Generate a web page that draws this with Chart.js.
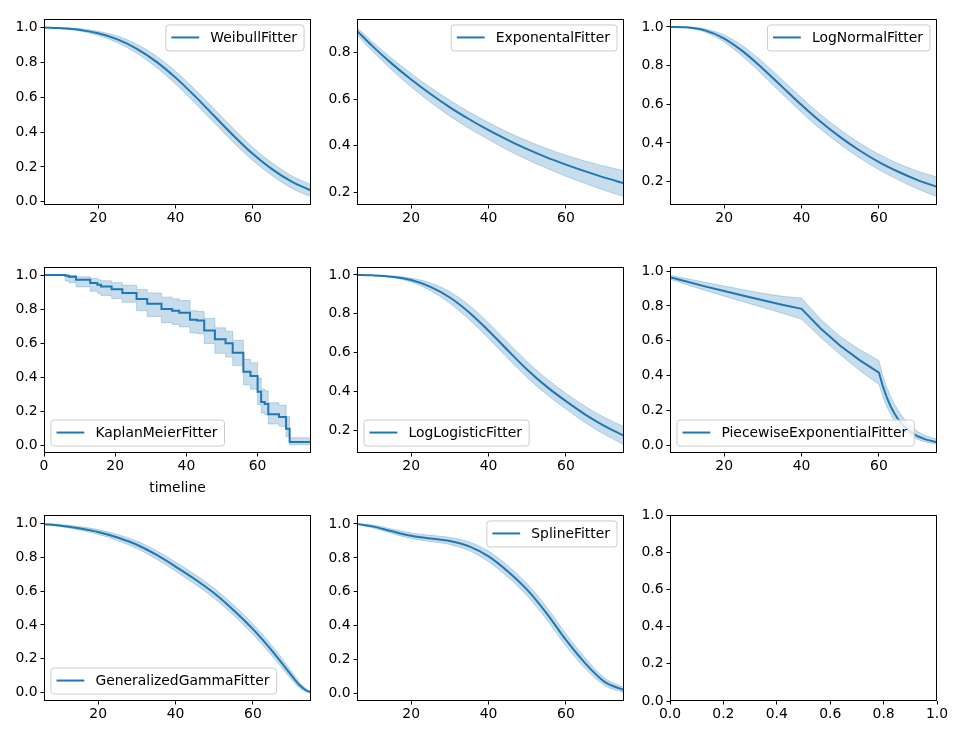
<!DOCTYPE html>
<html>
<head>
<meta charset="utf-8">
<script src="https://cdn.jsdelivr.net/npm/chart.js@4.4.0/dist/chart.umd.min.js"></script>
<style>
  html, body { margin: 0; padding: 0; background: #fff; }
  #fig { position: relative; width: 960px; height: 740px; overflow: hidden; }
  #fig canvas { position: absolute; }
</style>
</head>
<body>
<div id="fig"></div>
<script>
// timeline shared by the smooth parametric fitters
const tGrid = [6, 10, 15, 20, 25, 30, 35, 40, 45, 50, 55, 60, 65, 70, 75];

const weibullS  = [0.999, 0.996, 0.987, 0.966, 0.931, 0.877, 0.804, 0.712, 0.606, 0.492, 0.379, 0.274, 0.186, 0.116, 0.065];
const weibullHi = [1.000, 0.999, 0.994, 0.978, 0.950, 0.903, 0.836, 0.749, 0.645, 0.532, 0.419, 0.312, 0.222, 0.150, 0.100];
const weibullLo = [0.998, 0.993, 0.980, 0.954, 0.912, 0.851, 0.772, 0.675, 0.567, 0.452, 0.339, 0.236, 0.150, 0.078, 0.029];

const expS  = [0.892, 0.827, 0.752, 0.684, 0.622, 0.565, 0.514, 0.467, 0.425, 0.386, 0.351, 0.320, 0.291, 0.264, 0.240];
const expHi = [0.907, 0.846, 0.775, 0.710, 0.650, 0.595, 0.545, 0.500, 0.458, 0.422, 0.389, 0.360, 0.335, 0.313, 0.294];
const expLo = [0.876, 0.805, 0.725, 0.652, 0.587, 0.527, 0.474, 0.427, 0.381, 0.341, 0.304, 0.270, 0.239, 0.209, 0.183];

const lognormS  = [1.000, 0.998, 0.982, 0.940, 0.871, 0.784, 0.690, 0.596, 0.508, 0.430, 0.361, 0.301, 0.251, 0.208, 0.173];
const lognormHi = [1.000, 1.000, 0.990, 0.958, 0.899, 0.818, 0.727, 0.634, 0.546, 0.468, 0.400, 0.341, 0.293, 0.254, 0.224];
const lognormLo = [1.000, 0.996, 0.974, 0.922, 0.843, 0.750, 0.653, 0.558, 0.470, 0.392, 0.322, 0.261, 0.209, 0.162, 0.122];

const kmT  = [0, 6, 7, 9, 13, 15, 16, 19, 22, 26, 29, 33, 36, 38, 41, 43, 45, 48, 51, 53, 56, 58, 60, 61, 62, 63, 66, 68, 69, 75];
const kmS  = [1.0, 0.995, 0.990, 0.972, 0.953, 0.943, 0.933, 0.917, 0.894, 0.859, 0.831, 0.800, 0.790, 0.778, 0.737, 0.733, 0.674, 0.623, 0.599, 0.544, 0.432, 0.407, 0.314, 0.255, 0.242, 0.183, 0.167, 0.098, 0.020, 0.0];
const kmHi = [1.0, 0.999, 0.998, 0.990, 0.980, 0.972, 0.966, 0.955, 0.940, 0.915, 0.895, 0.870, 0.860, 0.850, 0.790, 0.786, 0.745, 0.690, 0.670, 0.617, 0.505, 0.485, 0.395, 0.330, 0.320, 0.250, 0.235, 0.170, 0.045, 0.045];
const kmLo = [1.0, 0.965, 0.955, 0.930, 0.905, 0.893, 0.880, 0.862, 0.840, 0.790, 0.757, 0.720, 0.710, 0.695, 0.660, 0.655, 0.598, 0.540, 0.518, 0.468, 0.355, 0.330, 0.240, 0.190, 0.178, 0.125, 0.112, 0.050, 0.004, 0.0];

const loglogS  = [1.000, 0.998, 0.991, 0.974, 0.939, 0.884, 0.807, 0.713, 0.611, 0.512, 0.425, 0.350, 0.281, 0.222, 0.172];
const loglogHi = [1.000, 0.999, 0.995, 0.984, 0.959, 0.914, 0.844, 0.753, 0.652, 0.553, 0.466, 0.391, 0.323, 0.266, 0.219];
const loglogLo = [1.000, 0.997, 0.987, 0.964, 0.919, 0.854, 0.770, 0.673, 0.570, 0.471, 0.384, 0.309, 0.239, 0.178, 0.125];

const pweT  = [6, 10, 15, 20, 25, 30, 35, 40, 45, 50, 55, 60, 61, 62, 63, 64, 65, 66, 67, 68, 70, 72, 75];
const pweS  = [0.964, 0.941, 0.912, 0.885, 0.858, 0.832, 0.807, 0.783, 0.669, 0.572, 0.489, 0.418, 0.340, 0.277, 0.225, 0.183, 0.149, 0.121, 0.099, 0.080, 0.053, 0.035, 0.019];
const pweHi = [0.976, 0.958, 0.936, 0.914, 0.893, 0.872, 0.855, 0.845, 0.722, 0.625, 0.550, 0.487, 0.400, 0.335, 0.282, 0.238, 0.200, 0.168, 0.140, 0.116, 0.080, 0.056, 0.036];
const pweLo = [0.953, 0.924, 0.889, 0.856, 0.823, 0.791, 0.758, 0.724, 0.617, 0.520, 0.430, 0.349, 0.282, 0.224, 0.178, 0.142, 0.112, 0.089, 0.071, 0.056, 0.034, 0.020, 0.007];

const ggT  = [6, 10, 15, 20, 25, 30, 35, 40, 45, 50, 55, 60, 65, 70, 72, 74, 75];
const ggS  = [0.996, 0.988, 0.972, 0.950, 0.917, 0.874, 0.815, 0.745, 0.670, 0.587, 0.487, 0.375, 0.245, 0.100, 0.045, 0.010, 0.003];
const ggHi = [0.999, 0.994, 0.982, 0.964, 0.935, 0.896, 0.840, 0.772, 0.699, 0.617, 0.518, 0.406, 0.275, 0.124, 0.062, 0.017, 0.006];
const ggLo = [0.993, 0.982, 0.962, 0.936, 0.899, 0.852, 0.790, 0.718, 0.641, 0.557, 0.456, 0.344, 0.215, 0.076, 0.028, 0.003, 0.000];

const splineS  = [1.000, 0.986, 0.957, 0.931, 0.915, 0.900, 0.868, 0.809, 0.720, 0.611, 0.473, 0.316, 0.178, 0.069, 0.020];
const splineHi = [1.000, 0.994, 0.970, 0.947, 0.933, 0.921, 0.894, 0.840, 0.754, 0.647, 0.510, 0.352, 0.209, 0.091, 0.035];
const splineLo = [0.998, 0.978, 0.944, 0.915, 0.897, 0.879, 0.842, 0.778, 0.686, 0.575, 0.436, 0.280, 0.147, 0.047, 0.005];

// tick labels
const fitTicksX = [20, 40, 60];
const kmTicksX = [0, 20, 40, 60];
const unitTicks = [0, 0.2, 0.4, 0.6, 0.8, 1.0];
const expTicksY = [0.2, 0.4, 0.6, 0.8];
const upperTicksY = [0.2, 0.4, 0.6, 0.8, 1.0];

Chart.defaults.font.family = 'DejaVu Sans';
Chart.defaults.font.size = 13.9;
Chart.defaults.color = '#000';

const BLUE = '#1f77b4';
const BAND = 'rgba(31,119,180,0.25)';

// draws the axes frame like matplotlib spines
const framePlugin = {
  id: 'frame',
  afterDraw(chart) {
    const { ctx, chartArea: a } = chart;
    ctx.save();
    ctx.strokeStyle = '#000';
    ctx.lineWidth = 1;
    ctx.strokeRect(a.left + 0.5, a.top + 0.5, a.right - a.left - 1, a.bottom - a.top - 1);
    ctx.restore();
  }
};

// legend box inside the axes
const mplLegend = {
  id: 'mplLegend',
  afterDraw(chart, args, opts) {
    if (!opts || !opts.text) return;
    const { ctx, chartArea: a } = chart;
    const fs = 13.9;
    ctx.save();
    ctx.font = fs + 'px "DejaVu Sans"';
    const tw = ctx.measureText(opts.text).width;
    const pad = 0.4 * fs, hl = 2 * fs, htp = 0.8 * fs, gap = 0.5 * fs;
    const w = pad * 2 + hl + htp + tw + 1.5, h = 26;
    const x = opts.loc === 'ur' ? a.right - gap - w : a.left + gap;
    const y = opts.loc === 'ur' ? a.top + gap - 1 : a.bottom - gap - h;
    const r = 3;
    ctx.beginPath();
    ctx.moveTo(x + r, y);
    ctx.arcTo(x + w, y, x + w, y + h, r);
    ctx.arcTo(x + w, y + h, x, y + h, r);
    ctx.arcTo(x, y + h, x, y, r);
    ctx.arcTo(x, y, x + w, y, r);
    ctx.closePath();
    ctx.fillStyle = 'rgba(255,255,255,0.8)';
    ctx.fill();
    ctx.strokeStyle = '#cccccc';
    ctx.lineWidth = 1;
    ctx.stroke();
    const cy = y + h / 2 - 0.5;
    ctx.beginPath();
    ctx.moveTo(x + pad, cy);
    ctx.lineTo(x + pad + hl, cy);
    ctx.strokeStyle = BLUE;
    ctx.lineWidth = 2;
    ctx.stroke();
    ctx.fillStyle = '#000';
    ctx.textBaseline = 'middle';
    ctx.fillText(opts.text, x + pad + hl + htp, cy + 1);
    ctx.restore();
  }
};

Chart.register(framePlugin, mplLegend);

const panels = [
  { name: 'WeibullFitter', t: tGrid, s: weibullS, hi: weibullHi, lo: weibullLo, ymin: -0.018, ymax: 1.048, yt: unitTicks, loc: 'ur' },
  { name: 'ExponentalFitter', t: tGrid, s: expS, hi: expHi, lo: expLo, ymin: 0.147, ymax: 0.943, yt: expTicksY, loc: 'ur' },
  { name: 'LogNormalFitter', t: tGrid, s: lognormS, hi: lognormHi, lo: lognormLo, ymin: 0.079, ymax: 1.041, yt: upperTicksY, loc: 'ur' },
  { name: 'KaplanMeierFitter', t: kmT, s: kmS, hi: kmHi, lo: kmLo, ymin: -0.045, ymax: 1.047, yt: unitTicks, loc: 'll', step: true, xmin: 0, xt: kmTicksX, xlabel: 'timeline' },
  { name: 'LogLogisticFitter', t: tGrid, s: loglogS, hi: loglogHi, lo: loglogLo, ymin: 0.083, ymax: 1.041, yt: upperTicksY, loc: 'll' },
  { name: 'PiecewiseExponentialFitter', t: pweT, s: pweS, hi: pweHi, lo: pweLo, ymin: -0.043, ymax: 1.023, yt: unitTicks, loc: 'll', straight: true },
  { name: 'GeneralizedGammaFitter', t: ggT, s: ggS, hi: ggHi, lo: ggLo, ymin: -0.05, ymax: 1.05, yt: unitTicks, loc: 'll' },
  { name: 'SplineFitter', t: tGrid, s: splineS, hi: splineHi, lo: splineLo, ymin: -0.044, ymax: 1.053, yt: unitTicks, loc: 'ur' },
  { empty: true }
];

const colLeft = [44, 357, 670];
const rowTop = [19, 267, 515];
const AX_W = 267, AX_H = 186, YW = 44, PAD_T = 12, PAD_R = 14;

const pts = (xs, ys) => xs.map((x, i) => ({ x: x, y: ys[i] }));

panels.forEach((p, idx) => {
  const col = idx % 3, row = Math.floor(idx / 3);
  const xh = p.xlabel ? 44 : 30;
  const cv = document.createElement('canvas');
  const cw = YW + AX_W + PAD_R, ch = PAD_T + AX_H + xh;
  cv.width = cw; cv.height = ch;
  cv.style.width = cw + 'px'; cv.style.height = ch + 'px';
  cv.style.left = (colLeft[col] - YW) + 'px';
  cv.style.top = (rowTop[row] - PAD_T) + 'px';
  document.getElementById('fig').appendChild(cv);

  const curve = p.step ? { stepped: 'before' } : p.straight ? { tension: 0 } : { cubicInterpolationMode: 'monotone' };
  const datasets = p.empty ? [] : [
    Object.assign({ label: p.name, data: pts(p.t, p.s), borderColor: BLUE, borderWidth: 2, pointRadius: 0, fill: false }, curve),
    Object.assign({ data: pts(p.t, p.hi), borderColor: BAND, borderWidth: 1, backgroundColor: BAND, pointRadius: 0, fill: '+1' }, curve),
    Object.assign({ data: pts(p.t, p.lo), borderColor: BAND, borderWidth: 1, pointRadius: 0, fill: false }, curve)
  ];
  const xt = p.empty ? unitTicks : (p.xt || fitTicksX);
  const yt = p.empty ? unitTicks : p.yt;

  new Chart(cv, {
    type: 'line',
    data: { datasets: datasets },
    options: {
      responsive: false,
      animation: false,
      events: [],
      layout: { padding: { left: 0, top: PAD_T, right: PAD_R, bottom: 0 } },
      plugins: {
        legend: { display: false },
        tooltip: { enabled: false },
        mplLegend: { text: p.empty ? '' : p.name, loc: p.loc }
      },
      scales: {
        x: {
          type: 'linear',
          min: p.empty ? 0 : (p.xmin !== undefined ? p.xmin : 6),
          max: p.empty ? 1 : 75,
          afterBuildTicks: s => { s.ticks = xt.map(v => ({ value: v })); },
          afterFit: s => { s.height = xh; },
          grid: { drawOnChartArea: false, drawTicks: true, tickLength: 3.5, color: '#000', lineWidth: 1 },
          border: { display: false },
          ticks: { padding: 2, autoSkip: false, maxRotation: 0, callback: v => p.empty ? v.toFixed(1) : String(Math.round(v)) },
          title: { display: !!p.xlabel, text: p.xlabel || '', padding: { top: 0, bottom: 0 } }
        },
        y: {
          type: 'linear',
          min: p.empty ? 0 : p.ymin,
          max: p.empty ? 1 : p.ymax,
          afterBuildTicks: s => { s.ticks = yt.map(v => ({ value: v })); },
          afterFit: s => { s.width = YW; },
          grid: { drawOnChartArea: false, drawTicks: true, tickLength: 3.5, color: '#000', lineWidth: 1 },
          border: { display: false },
          ticks: { padding: 3, autoSkip: false, callback: v => v.toFixed(1) }
        }
      }
    }
  });
});
</script>
</body>
</html>
